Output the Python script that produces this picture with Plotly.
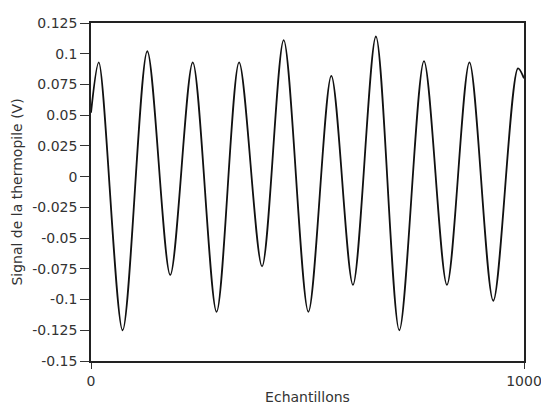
import plotly.graph_objects as go

# Extrema of the thermopile signal (sample index, volts)
samples = [0, 18, 73, 130, 183, 235, 290, 342, 395, 445, 502, 555, 605, 658, 712, 769, 822, 874, 929, 986, 1000]
signal = [0.052, 0.093, -0.125, 0.102, -0.080, 0.093, -0.110, 0.093, -0.073, 0.111, -0.110, 0.082,
          -0.088, 0.114, -0.125, 0.094, -0.088, 0.093, -0.101, 0.088, 0.080]

y_tickvals = [0.125, 0.1, 0.075, 0.05, 0.025, 0, -0.025, -0.05, -0.075, -0.1, -0.125, -0.15]
y_ticktext = ["0.125", "0.1", "0.075", "0.05", "0.025", "0", "-0.025", "-0.05", "-0.075", "-0.1", "-0.125", "-0.15"]
x_tickvals = [0, 1000]
x_ticktext = ["0", "1000"]

fig = go.Figure()
fig.add_trace(go.Scatter(
    x=samples, y=signal, mode="lines",
    line=dict(color="#111111", width=1.8, shape="spline", smoothing=0.85),
    hoverinfo="skip", showlegend=False,
))

font = dict(family="DejaVu Sans, Verdana, sans-serif", size=14, color="#333333")

# page body has an 8px default margin, so the figure is sized to fit the 549x410 window
fig.update_layout(
    width=541, height=402,
    margin=dict(l=83, r=20, t=7, b=48),
    paper_bgcolor="white", plot_bgcolor="white",
    font=font,
    xaxis=dict(
        range=[0, 1000], tickvals=x_tickvals, ticktext=x_ticktext,
        showgrid=False, zeroline=False,
        showline=True, linecolor="#222222", linewidth=1.5, mirror=True,
        ticks="outside", ticklen=6, tickcolor="#333333",
        title=dict(text="Echantillons", font=dict(size=14, color="#333333"), standoff=5),
    ),
    yaxis=dict(
        range=[-0.15, 0.125], tickvals=y_tickvals, ticktext=y_ticktext,
        showgrid=False, zeroline=False,
        showline=True, linecolor="#222222", linewidth=1.5, mirror=True,
        ticks="outside", ticklen=9, tickcolor="#333333",
        title=dict(text="Signal de la thermopile (V)", font=dict(size=14, color="#333333"), standoff=6),
    ),
)

fig.write_html("out.html")
